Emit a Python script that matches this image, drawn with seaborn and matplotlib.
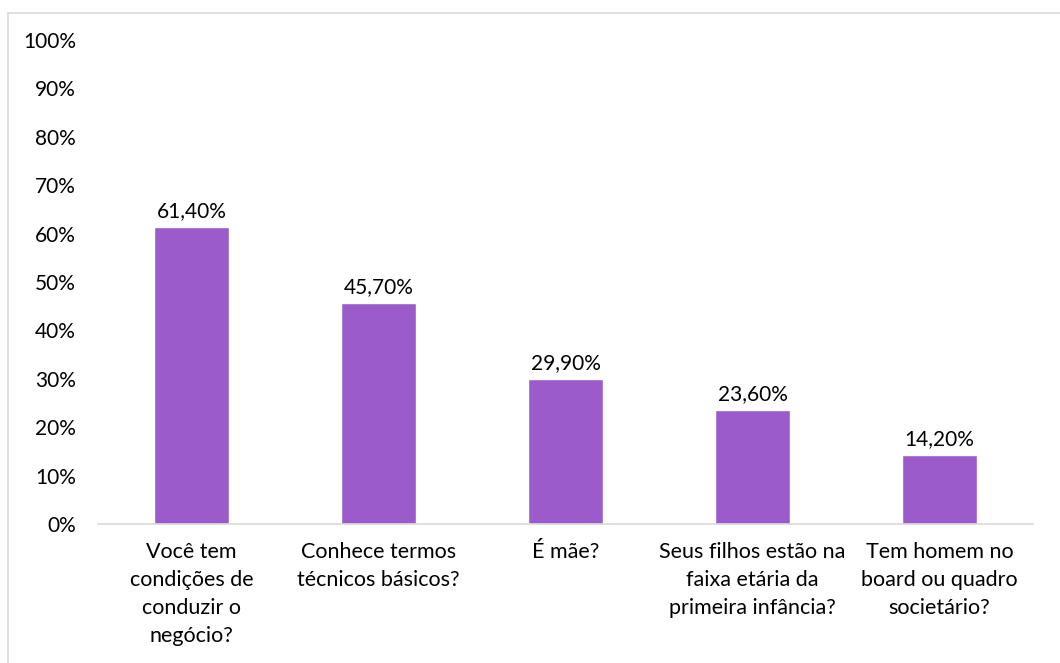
import matplotlib
matplotlib.use("Agg")
import matplotlib.pyplot as plt
import seaborn as sns
import pandas as pd
from matplotlib.patches import Rectangle

categories = [
    "Você tem\ncondições de\nconduzir o\nnegócio?",
    "Conhece termos\ntécnicos básicos?",
    "É mãe?",
    "Seus filhos estão na\nfaixa etária da\nprimeira infância?",
    "Tem homem no\nboard ou quadro\nsocietário?",
]
values = [61.4, 45.7, 29.9, 23.6, 14.2]
value_labels = ["61,40%", "45,70%", "29,90%", "23,60%", "14,20%"]
yticks = [0, 10, 20, 30, 40, 50, 60, 70, 80, 90, 100]

sns.set_theme(style="white")
plt.rcParams["font.family"] = ["Lato", "DejaVu Sans"]

df = pd.DataFrame({"categoria": categories, "valor": values})

fig = plt.figure(figsize=(10.6, 6.63), dpi=100)
ax = fig.add_axes([0.0925, 0.2097, 0.882, 0.73])

sns.barplot(data=df, x="categoria", y="valor", color="#9B5BCB",
            saturation=1, width=0.40, ax=ax)

for i, (v, lab) in enumerate(zip(values, value_labels)):
    ax.text(i, v + 1.2, lab, ha="center", va="bottom", fontsize=15, color="#000000")

ax.set_ylim(0, 100)
ax.set_xlim(-0.5, len(categories) - 0.5)
ax.set_yticks(yticks)
ax.set_yticklabels([f"{t}%" for t in yticks], fontsize=15, color="#000000")
ax.tick_params(axis="x", labelsize=15.5, colors="#000000", pad=13, length=0)
ax.tick_params(axis="y", length=0, pad=16)
for lbl in ax.get_xticklabels():
    lbl.set_linespacing(1.5)
ax.set_xlabel("")
ax.set_ylabel("")
for side in ["top", "right", "left"]:
    ax.spines[side].set_visible(False)
ax.spines["bottom"].set_color("#D9D9D9")
ax.spines["bottom"].set_linewidth(1.2)
ax.grid(False)

# outer chart frame
fig.patches.append(Rectangle((8 / 1060, -0.05), 1.1, 1 - 13 / 663 + 0.05,
                             transform=fig.transFigure, fill=False,
                             edgecolor="#D9D9D9", linewidth=1.2))

fig.savefig("out.png", dpi=100, facecolor="white")
